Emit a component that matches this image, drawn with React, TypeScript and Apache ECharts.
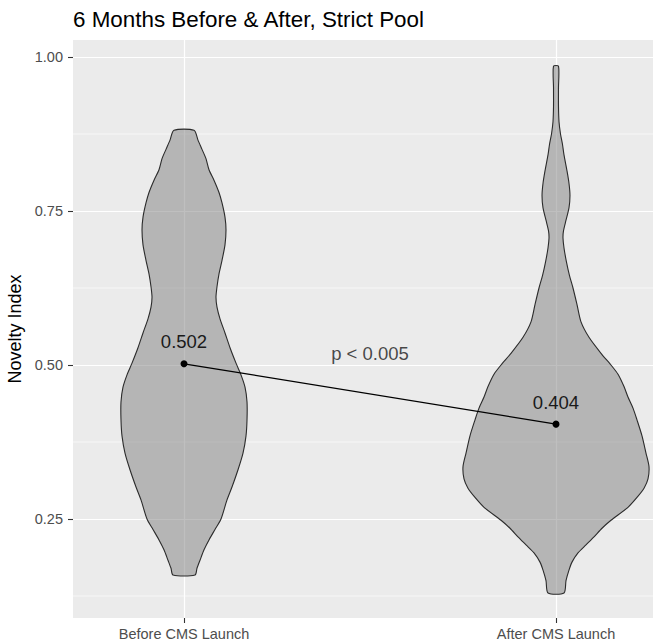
import React, { useEffect, useRef } from "react";
import * as echarts from "echarts";

// ---- data ----
const categories = ["Before CMS Launch", "After CMS Launch"];
const meanValues = [0.502, 0.404];
const pValueText = "p < 0.005";
const pValuePosition = [1.5, 0.518];
const yTicks = [0.25, 0.5, 0.75, 1.0];
const yMinorTicks = [0.125, 0.375, 0.625, 0.875];

// violin outlines: novelty-index levels (top to bottom) and half-widths in x-axis units
const beforeLevels = [
  0.881, 0.865, 0.85, 0.835, 0.817, 0.8, 0.78, 0.763, 0.74, 0.719, 0.695, 0.67, 0.648, 0.627,
  0.61, 0.594, 0.575, 0.552, 0.528, 0.503, 0.484, 0.464, 0.44, 0.411, 0.385, 0.357, 0.33, 0.302,
  0.281, 0.25, 0.233, 0.216, 0.2, 0.183, 0.17, 0.159,
];
const beforeHalfWidths = [
  0.0269, 0.0376, 0.0484, 0.0591, 0.0672, 0.0806, 0.0941, 0.1022, 0.1102, 0.1129, 0.1102, 0.1022,
  0.0941, 0.0887, 0.086, 0.0887, 0.0968, 0.1102, 0.1237, 0.1398, 0.1532, 0.164, 0.1694, 0.1694,
  0.1667, 0.1586, 0.1452, 0.129, 0.1156, 0.0995, 0.0833, 0.0672, 0.0538, 0.043, 0.0349, 0.0296,
];
const afterLevels = [
  0.985, 0.95, 0.92, 0.895, 0.875, 0.858, 0.841, 0.815, 0.795, 0.775, 0.755, 0.735, 0.718, 0.706,
  0.69, 0.667, 0.645, 0.625, 0.598, 0.57, 0.545, 0.519, 0.5, 0.485, 0.465, 0.448, 0.43, 0.411,
  0.385, 0.357, 0.335, 0.315, 0.3, 0.285, 0.269, 0.248, 0.235, 0.221, 0.208, 0.195, 0.18, 0.167,
  0.15, 0.13,
];
const afterHalfWidths = [
  0.0067, 0.0067, 0.0067, 0.0081, 0.0121, 0.0175, 0.0215, 0.0296, 0.0349, 0.0376, 0.0349, 0.0269,
  0.0202, 0.0188, 0.0215, 0.0282, 0.0363, 0.0457, 0.0565, 0.0672, 0.0887, 0.121, 0.1478, 0.1667,
  0.1828, 0.1935, 0.207, 0.2177, 0.2312, 0.2419, 0.25, 0.2473, 0.2366, 0.2177, 0.1935, 0.1478,
  0.1237, 0.1022, 0.0806, 0.0591, 0.043, 0.0349, 0.0269, 0.0215,
];

const FONT = "'Liberation Sans', Arial, Helvetica, sans-serif";

export default function App() {
  const ref = useRef<HTMLDivElement>(null);

  useEffect(() => {
    if (!ref.current) return;
    const chart = echarts.init(ref.current, null, { renderer: "svg" });
    const profiles = [
      { levels: beforeLevels, half: beforeHalfWidths },
      { levels: afterLevels, half: afterHalfWidths },
    ];

    chart.setOption({
      animation: false,
      backgroundColor: "#FFFFFF",
      title: {
        text: "6 Months Before & After, Strict Pool",
        left: 73,
        top: 8,
        padding: 0,
        textStyle: { fontFamily: FONT, fontSize: 22.4, fontWeight: "normal", color: "#000000" },
      },
      grid: {
        left: 73,
        right: 0,
        top: 40,
        bottom: 23,
        show: true,
        backgroundColor: "#EBEBEB",
        borderWidth: 0,
        containLabel: false,
        outerBoundsMode: "none",
      },
      xAxis: {
        type: "value",
        min: 0.70161,
        max: 2.26075,
        axisLine: { show: false },
        axisTick: {
          show: true,
          customValues: [1, 2],
          length: 5,
          lineStyle: { color: "#333333", width: 1.1 },
        },
        axisLabel: {
          customValues: [1, 2],
          formatter: (v: number) => categories[Math.round(v) - 1] ?? "",
          margin: 8,
          fontSize: 14.5,
          color: "#4D4D4D",
          fontFamily: FONT,
        },
        splitLine: { show: true, lineStyle: { color: "#FFFFFF", width: 1.2 } },
      },
      yAxis: {
        type: "value",
        min: 0.08929,
        max: 1.0276,
        name: "Novelty Index",
        nameLocation: "middle",
        nameRotate: 90,
        nameGap: 45,
        nameTextStyle: { fontFamily: FONT, fontSize: 18, color: "#000000" },
        axisLine: { show: false },
        axisTick: {
          show: true,
          customValues: yTicks,
          length: 5,
          lineStyle: { color: "#333333", width: 1.1 },
        },
        axisLabel: {
          customValues: yTicks,
          formatter: (v: number) => v.toFixed(2),
          margin: 10,
          fontSize: 14.5,
          color: "#4D4D4D",
          fontFamily: FONT,
        },
        splitLine: { show: true, lineStyle: { color: "#FFFFFF", width: 1.2 } },
      },
      series: [
        {
          type: "custom",
          name: "minor-grid",
          z: 1,
          silent: true,
          encode: { x: 0, y: 1 },
          data: yMinorTicks.map((v) => [1, v]),
          renderItem: (params: any, api: any) => {
            const cs = params.coordSys;
            const p = api.coord([api.value(0), api.value(1)]);
            return {
              type: "line",
              shape: { x1: cs.x, y1: p[1], x2: cs.x + cs.width, y2: p[1] },
              style: { stroke: "#FFFFFF", lineWidth: 0.6 },
            };
          },
        },
        {
          type: "custom",
          name: "violin",
          z: 2,
          silent: true,
          encode: { x: 0 },
          data: categories.map((_, i) => [i + 1]),
          renderItem: (params: any, api: any) => {
            const i = params.dataIndex;
            const cx = api.value(0);
            const { levels, half } = profiles[i];
            const right = levels.map((lv, k) => api.coord([cx + half[k], lv]));
            const left = levels.map((lv, k) => api.coord([cx - half[k], lv])).reverse();
            return {
              type: "polygon",
              shape: { points: right.concat(left), smooth: 0.25 },
              style: { fill: "rgba(127,127,127,0.5)", stroke: "#2B2B2B", lineWidth: 1.1 },
            };
          },
        },
        {
          type: "line",
          name: "means",
          z: 3,
          data: meanValues.map((v, i) => [i + 1, v]),
          symbol: "circle",
          symbolSize: 7,
          itemStyle: { color: "#000000" },
          lineStyle: { color: "#000000", width: 1.3 },
          label: {
            show: true,
            position: "top",
            distance: 9,
            formatter: (p: any) => p.value[1].toFixed(3),
            fontFamily: FONT,
            fontSize: 18.5,
            color: "#1A1A1A",
          },
          emphasis: { disabled: true },
        },
        {
          type: "scatter",
          name: "p-value",
          z: 3,
          symbolSize: 0,
          data: [pValuePosition],
          label: {
            show: true,
            position: "inside",
            formatter: () => pValueText,
            fontFamily: FONT,
            fontSize: 18.5,
            color: "#1A1A1A",
          },
          emphasis: { disabled: true },
        },
      ],
    });

    return () => chart.dispose();
  }, []);

  return (
    <div
      ref={ref}
      style={{ position: "fixed", left: 0, top: 0, width: 653, height: 641 }}
    />
  );
}
